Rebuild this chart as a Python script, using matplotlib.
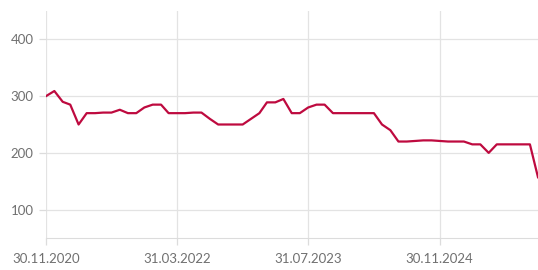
import matplotlib
matplotlib.use("Agg")
import matplotlib.pyplot as plt
import pandas as pd

# monthly values, Nov 2020 - Nov 2025
dates = pd.date_range("2020-11-30", periods=61, freq="ME")
values = [300, 309, 290, 285, 250, 270, 270, 271, 271, 276,
          270, 270, 280, 285, 285, 270, 270, 270, 271, 271,
          260, 250, 250, 250, 250, 260, 270, 289, 289, 295,
          270, 270, 280, 285, 285, 270, 270, 270, 270, 270,
          270, 250, 240, 220, 220, 221, 222, 222, 221, 220,
          220, 220, 215, 215, 200, 215, 215, 215, 215, 215,
          157]
tick_dates = pd.to_datetime(["2020-11-30", "2022-03-31", "2023-07-31", "2024-11-30"])
tick_labels = ["30.11.2020", "31.03.2022", "31.07.2023", "30.11.2024"]
y_ticks = [100, 200, 300, 400]

plt.rcParams['font.family'] = ['Lato', 'DejaVu Sans']

fig = plt.figure(figsize=(5.38, 2.7), dpi=100)
ax = fig.add_axes([46 / 538, 32 / 270, 492 / 538, 227 / 270])

ax.plot(dates, values, color='#be0a3f', linewidth=1.6, zorder=3)

ax.set_xlim(dates[0], dates[-1])
ax.set_ylim(50, 450)
ax.set_yticks(y_ticks)
ax.set_xticks(tick_dates)
ax.set_xticklabels(tick_labels)

ax.grid(True, color='#e3e3e3', linewidth=0.9)
for s in ['top', 'right', 'left']:
    ax.spines[s].set_visible(False)
ax.spines['bottom'].set_color('#dcdcdc')
ax.tick_params(axis='both', colors='#dcdcdc', length=5, width=0.9,
               labelcolor='#707070', labelsize=9.5)
ax.tick_params(axis='x', pad=6)
ax.tick_params(axis='y', pad=4)

fig.savefig("out.png", dpi=100)
